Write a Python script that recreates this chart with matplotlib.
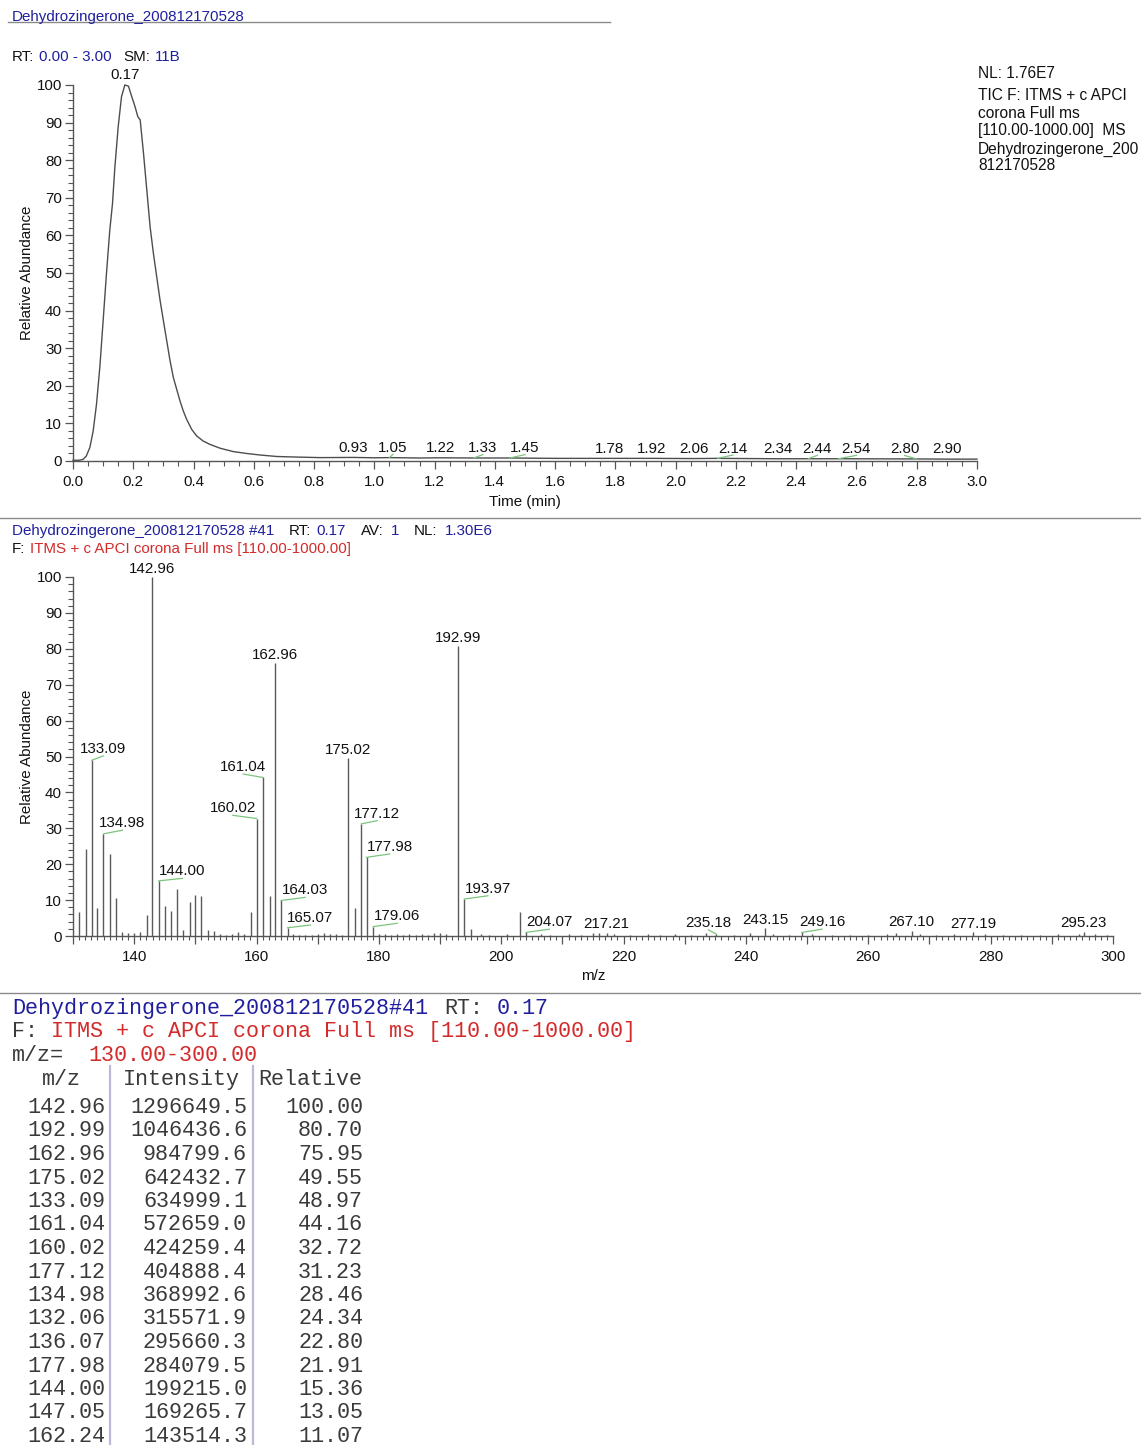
import matplotlib
matplotlib.use('Agg')
import matplotlib.pyplot as plt
from matplotlib.ticker import MultipleLocator, FuncFormatter
from matplotlib.lines import Line2D

W, H = 1141, 1445
DPI = 100

# ---------------- data ----------------
sample_name = "Dehydrozingerone_200812170528"
scan_filter = "ITMS + c APCI corona Full ms [110.00-1000.00]"

tic_time = [0.0, 0.02, 0.033, 0.044, 0.056, 0.067, 0.078, 0.089, 0.10, 0.111, 0.122,
            0.131, 0.139, 0.150, 0.161, 0.172, 0.184, 0.195, 0.206, 0.215, 0.223,
            0.234, 0.245, 0.256, 0.267, 0.278, 0.289, 0.300, 0.311, 0.322, 0.333,
            0.344, 0.355, 0.366, 0.377, 0.394, 0.410, 0.432, 0.455, 0.488, 0.532,
            0.576, 0.620, 0.676, 0.731, 0.82, 0.93, 1.00, 1.05, 1.15, 1.22, 1.33,
            1.45, 1.60, 1.78, 1.92, 2.06, 2.14, 2.34, 2.44, 2.54, 2.80, 2.90, 3.00]
tic_rel = [0.2, 0.2, 0.4, 1.3, 3.6, 8.0, 15.1, 24.9, 37.3, 49.8, 61.3,
           68.4, 78.2, 88.9, 96.9, 100.0, 99.7, 96.9, 94.2, 91.6, 90.7,
           81.8, 72.0, 62.2, 55.1, 48.9, 42.7, 37.3, 32.0, 26.7, 22.2,
           19.1, 16.0, 13.3, 11.1, 8.4, 6.7, 5.3, 4.4, 3.4, 2.5,
           2.0, 1.6, 1.2, 1.07, 0.9, 0.95, 0.85, 0.9, 0.8, 0.85, 0.8,
           0.8, 0.7, 0.7, 0.7, 0.65, 0.7, 0.6, 0.6, 0.6, 0.55, 0.5, 0.5]

tic_peak_times = [0.93, 1.05, 1.22, 1.33, 1.45, 1.78, 1.92, 2.06, 2.14, 2.34, 2.44, 2.54, 2.80, 2.90]
tic_peak_labels = ["0.93", "1.05", "1.22", "1.33", "1.45", "1.78", "1.92", "2.06",
                   "2.14", "2.34", "2.44", "2.54", "2.80", "2.90"]
tic_apex_time = 0.17
tic_apex_label = "0.17"
tic_info = ["NL: 1.76E7", "TIC F: ITMS + c APCI", "corona Full ms",
            "[110.00-1000.00]  MS", "Dehydrozingerone_200", "812170528"]

# spectrum centroid peaks (m/z, relative abundance)
ms_mz = [131.0, 132.06, 133.09, 134.0, 134.98, 136.07, 137.0, 138.0, 139.0, 140.0,
         141.0, 142.04, 142.96, 144.00, 145.0, 146.0, 147.05, 148.0, 149.05, 150.0,
         151.0, 152.0, 153.0, 154.0, 155.0, 156.0, 157.0, 158.0, 159.05, 160.02,
         161.04, 162.24, 162.96, 164.03, 165.07, 166.0, 167.0, 168.0, 169.0, 170.0,
         171.0, 172.0, 173.0, 174.0, 175.02, 176.05, 177.12, 177.98, 179.06, 180.0,
         181.0, 182.0, 183.0, 184.0, 185.0, 186.0, 187.0, 188.0, 189.0, 190.0,
         191.0, 192.99, 193.97, 195.0, 196.7, 198.0, 201.0, 203.0, 204.07, 206.5,
         208.0, 211.0, 213.0, 215.0, 216.0, 217.21, 218.5, 221.0, 224.0, 226.0,
         228.4, 231.0, 233.5, 235.18, 238.0, 240.7, 243.15, 244.5, 247.0, 249.16,
         250.8, 254.0, 257.0, 260.0, 263.0, 264.5, 267.10, 268.5, 271.0, 274.0,
         277.19, 279.0, 282.0, 285.0, 288.0, 291.0, 294.5, 295.23, 297.0, 299.0]
ms_rel = [6.8, 24.34, 48.97, 7.9, 28.46, 22.80, 10.5, 1.1, 0.7, 0.9,
          1.1, 5.9, 100.0, 15.36, 8.4, 7.0, 13.05, 1.7, 9.6, 11.3,
          11.1, 1.7, 1.3, 0.5, 0.4, 0.6, 1.0, 0.5, 6.6, 32.72,
          44.16, 11.07, 75.95, 9.9, 2.3, 0.5, 0.4, 0.4, 0.3, 0.5,
          0.9, 0.6, 0.5, 0.4, 49.55, 7.7, 31.23, 21.91, 2.6, 0.5,
          0.6, 0.4, 0.5, 0.4, 0.6, 0.3, 0.5, 0.4, 0.7, 0.8,
          0.6, 80.70, 10.3, 1.9, 0.6, 0.4, 0.5, 6.8, 1.0, 0.6,
          0.4, 0.5, 0.3, 0.8, 0.7, 0.9, 0.6, 0.4, 0.5, 0.3,
          0.6, 0.4, 0.7, 0.5, 0.4, 0.7, 2.1, 0.6, 0.4, 1.0,
          0.5, 0.4, 0.3, 0.4, 0.6, 0.7, 1.5, 0.6, 0.4, 0.5,
          1.0, 0.5, 0.4, 0.3, 0.4, 0.5, 0.6, 1.2, 0.6, 0.4]

ms_label_mz = [142.96, 192.99, 162.96, 175.02, 133.09, 161.04, 160.02, 177.12, 134.98,
               177.98, 144.00, 193.97, 164.03, 165.07, 179.06, 204.07, 217.21, 235.18,
               243.15, 249.16, 267.10, 277.19, 295.23]

table_mz = ["142.96", "192.99", "162.96", "175.02", "133.09", "161.04", "160.02", "177.12",
            "134.98", "132.06", "136.07", "177.98", "144.00", "147.05", "162.24"]
table_intensity = ["1296649.5", "1046436.6", "984799.6", "642432.7", "634999.1", "572659.0",
                   "424259.4", "404888.4", "368992.6", "315571.9", "295660.3", "284079.5",
                   "199215.0", "169265.7", "143514.3"]
table_relative = ["100.00", "80.70", "75.95", "49.55", "48.97", "44.16", "32.72", "31.23",
                  "28.46", "24.34", "22.80", "21.91", "15.36", "13.05", "11.07"]

# ---------------- layout / style ----------------
SANS = "Liberation Sans"
MONO = "Liberation Mono"
FS = 10.9
BLUE = "#1f1f9e"
RED = "#d42a2a"
GREEN = "#7cc47c"
GRAY = "#555555"
TXT = "#111111"

# label leader offsets (dx in m/z, dy in %)
ms_leader = {133.09: (1.86, 1.2), 134.98: (3.1, 1.0), 144.00: (3.9, 0.7),
             160.02: (-3.9, 0.9), 161.04: (-3.2, 0.95), 164.03: (3.9, 0.85),
             165.07: (3.75, 0.75), 177.12: (2.6, 0.9), 177.98: (3.8, 0.95),
             179.06: (3.95, 0.95), 193.97: (3.85, 0.9), 204.07: (3.8, 0.9),
             235.18: (-1.3, 1.2), 249.16: (3.3, 0.9)}
tic_leader = {1.05: 0.012, 1.33: 0.03, 1.45: 0.05, 2.14: 0.05, 2.44: 0.03,
              2.54: 0.06, 2.80: -0.04}

fig = plt.figure(figsize=(W / DPI, H / DPI), dpi=DPI)
fig.patch.set_facecolor("white")
renderer = fig.canvas.get_renderer()


def fx(x):
    return x / W


def fy(y):
    return 1 - y / H


def ftext(x, y, s, **kw):
    kw.setdefault("family", SANS)
    kw.setdefault("fontsize", FS)
    kw.setdefault("va", "center")
    kw.setdefault("ha", "left")
    kw.setdefault("color", TXT)
    return fig.text(fx(x), fy(y), s, **kw)


def seq_text(x, y, parts, **kw):
    for s, c, g in parts:
        t = ftext(x, y, s, color=c, **kw)
        x += t.get_window_extent(renderer).width + g


def hline(y, x0, x1, color="#8a8a8a", lw=1.0):
    fig.add_artist(Line2D([fx(x0), fx(x1)], [fy(y), fy(y)], color=color, lw=lw,
                          transform=fig.transFigure))


def vline(x, y0, y1, color="#b9b9d9", lw=1.6):
    fig.add_artist(Line2D([fx(x), fx(x)], [fy(y0), fy(y1)], color=color, lw=lw,
                          transform=fig.transFigure))


def style_axes(ax):
    for s in ["top", "right"]:
        ax.spines[s].set_visible(False)
    for s in ["left", "bottom"]:
        ax.spines[s].set_color(GRAY)
        ax.spines[s].set_linewidth(1.0)
    ax.tick_params(which="major", length=6, width=0.9, color=GRAY, labelsize=FS,
                   labelcolor=TXT, pad=2)
    ax.tick_params(which="minor", length=3.5, width=0.8, color=GRAY)
    ax.tick_params(axis="x", which="major", pad=4)
    for lab in ax.get_xticklabels() + ax.get_yticklabels():
        lab.set_family(SANS)
    ax.set_facecolor("none")


# ---------------- header ----------------
ftext(12, 16.5, sample_name, color=BLUE)
hline(22, 8, 610)
seq_text(12, 57, [("RT:", TXT, 5), ("0.00 - 3.00", BLUE, 11), ("SM:", TXT, 5), ("11B", BLUE, 0)])

# ---------------- chromatogram ----------------
ax1 = fig.add_axes([fx(73), fy(461), (977 - 73) / W, (461 - 85) / H])
ax1.plot(tic_time, tic_rel, color="#4d4d4d", lw=1.0, clip_on=False)
ax1.set_xlim(0, 3.0)
ax1.set_ylim(0, 100)
ax1.xaxis.set_major_locator(MultipleLocator(0.2))
ax1.xaxis.set_minor_locator(MultipleLocator(0.05))
ax1.xaxis.set_major_formatter(FuncFormatter(lambda v, p: f"{v:.1f}"))
ax1.yaxis.set_major_locator(MultipleLocator(10))
ax1.yaxis.set_minor_locator(MultipleLocator(2))
style_axes(ax1)
ax1.text(tic_apex_time + 0.003, 100.8, tic_apex_label, ha="center", va="bottom",
         family=SANS, fontsize=FS, color=TXT, clip_on=False)
for t, lab in zip(tic_peak_times, tic_peak_labels):
    idx = min(range(len(tic_time)), key=lambda i: abs(tic_time[i] - t))
    v = tic_rel[idx]
    dx = tic_leader.get(t, 0.0)
    if dx:
        ax1.plot([t, t + dx], [v, v + 0.9], color=GREEN, lw=0.9, clip_on=False)
    ax1.text(t + dx, v + 0.7, lab, ha="center", va="bottom", family=SANS,
             fontsize=FS, color=TXT, clip_on=False)

fig.text(fx(27), fy(273), "Relative Abundance", rotation=90, ha="center", va="center",
         family=SANS, fontsize=FS, color=TXT)
ftext(525, 502, "Time (min)", ha="center")
for s, y in zip(tic_info, [74, 95, 113, 131, 149, 166]):
    ftext(978, y, s, fontsize=11.2)

hline(518, 0, W)

# ---------------- spectrum ----------------
seq_text(12, 531, [(sample_name + " #41", BLUE, 14), ("RT:", TXT, 6), ("0.17", BLUE, 15),
                   ("AV:", TXT, 7), ("1", BLUE, 15), ("NL:", TXT, 7), ("1.30E6", BLUE, 0)])
seq_text(12, 549, [("F:", TXT, 5), (scan_filter, RED, 0)])

ax2 = fig.add_axes([fx(73), fy(936), (1113 - 73) / W, (936 - 577) / H])
ax2.vlines(ms_mz, 0, ms_rel, color="#5a5a5a", lw=1.0)
ax2.set_xlim(130, 300)
ax2.set_ylim(0, 100)
ax2.xaxis.set_major_locator(MultipleLocator(10))
ax2.xaxis.set_minor_locator(MultipleLocator(1))
ax2.xaxis.set_major_formatter(FuncFormatter(lambda v, p: f"{v:.0f}" if round(v) % 20 == 0 else ""))
ax2.yaxis.set_major_locator(MultipleLocator(10))
ax2.yaxis.set_minor_locator(MultipleLocator(2))
style_axes(ax2)
ax2.tick_params(axis="x", which="minor", length=3)

for m in ms_label_mz:
    h = ms_rel[ms_mz.index(m)]
    lab = f"{m:.2f}"
    if m in ms_leader:
        dx, dy = ms_leader[m]
        ax2.plot([m, m + dx], [h, h + dy], color=GREEN, lw=0.9, clip_on=False)
        ax2.text(m + dx, h + dy, lab, ha="center", va="bottom", family=SANS,
                 fontsize=FS, color=TXT, clip_on=False)
    else:
        ax2.annotate(lab, xy=(m, h), xytext=(0, 1.0), textcoords="offset points",
                     ha="center", va="bottom", family=SANS, fontsize=FS, color=TXT,
                     annotation_clip=False)

fig.text(fx(27), fy(757), "Relative Abundance", rotation=90, ha="center", va="center",
         family=SANS, fontsize=FS, color=TXT)
ftext(593, 976, "m/z", ha="center")

hline(993, 0, W)

# ---------------- peak table ----------------
TFS = 15.7
CW = 13.1
TC = "#3a3a3a"


def mono(col, y, s, color=TC, x0=12):
    ftext(x0 + col * CW, y, s, family=MONO, fontsize=TFS, color=color)


mono(0, 1008.5, sample_name + "#41", BLUE)
mono(33, 1008.5, "RT:", TC)
mono(37, 1008.5, "0.17", BLUE)
mono(0, 1031.5, "F:", TC)
mono(3, 1031.5, scan_filter, RED)
mono(0, 1055.5, "m/z=", TC)
mono(5.8, 1055.5, "130.00-300.00", RED)

ftext(61, 1079.5, "m/z", family=MONO, fontsize=TFS, color=TC, ha="center")
ftext(123, 1079.5, "Intensity", family=MONO, fontsize=TFS, color=TC)
ftext(258, 1079.5, "Relative", family=MONO, fontsize=TFS, color=TC)
vline(110, 1066, H)
vline(253, 1066, H)
for i, (a, b, c) in enumerate(zip(table_mz, table_intensity, table_relative)):
    y = 1107.5 + i * 23.5
    ftext(105, y, a, family=MONO, fontsize=TFS, color=TC, ha="right")
    ftext(247, y, b, family=MONO, fontsize=TFS, color=TC, ha="right")
    ftext(363, y, c, family=MONO, fontsize=TFS, color=TC, ha="right")

fig.savefig("out.png", dpi=DPI, facecolor="white")
